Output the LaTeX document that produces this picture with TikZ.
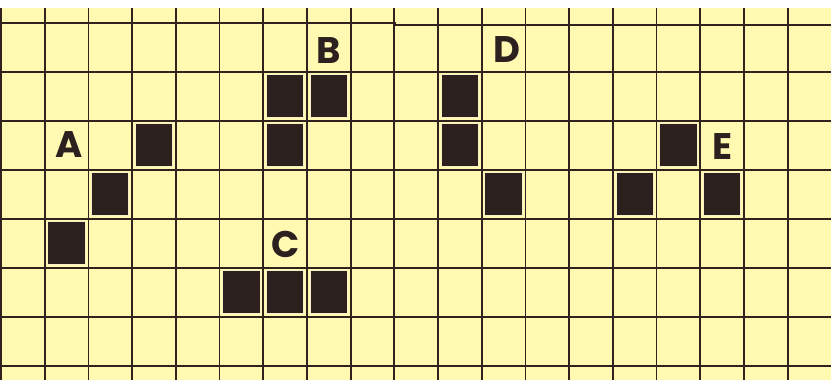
\documentclass[tikz,border=0pt]{standalone}
\usepackage{fontspec}
\setmainfont{Poppins}
\definecolor{paper}{RGB}{255,249,178}
\definecolor{ink}{RGB}{48,34,28}
\definecolor{cellfill}{RGB}{44,33,30}
\definecolor{rim}{RGB}{246,240,196}
\tikzset{
  gridline/.style={draw=ink, line width=1.8pt},
  blackcell/.style={fill=cellfill, draw=rim, line width=0.9pt},
  letter/.style={text=cellfill, font=\fontsize{37}{40}\selectfont\bfseries, inner sep=0pt}
}
\begin{document}
\begin{tikzpicture}[x=1pt,y=-1pt]
\useasboundingbox (0,0) rectangle (831,380);
\fill[white] (0,0) rectangle (831,380);
\fill[paper] (0,8) rectangle (831,380);
% vertical grid lines
\foreach \k in {0,...,18}{
  \draw[gridline] ({1+43.7*\k},8) -- ({1+43.7*\k},380);
}
% horizontal grid lines
\draw[gridline] (0,22.7) -- (395,22.7) -- (395,24.7) -- (831,24.7);
\foreach \k in {1,...,7}{
  \draw[gridline] (0,{22.7+49*\k}) -- (831,{22.7+49*\k});
}
% black cells
\foreach \c/\r in {3/2,2/3,1/4, 6/1,7/1,6/2, 5/5,6/5,7/5, 10/1,10/2,11/3, 15/2,14/3,16/3}{
  \draw[blackcell] ({1+43.7*\c+3.2},{22.7+49*\r+3.2}) rectangle ({1+43.7*(\c+1)-3.2},{22.7+49*(\r+1)-3.2});
}
% labels
\node[letter] (lA) at (69,145) {A};
\node[letter] (lB) at (329,50.5) {B};
\node[letter] (lC) at (286,244) {C};
\node[letter] (lD) at (507,50) {D};
\node[letter] (lE) at (722.5,146.7) {E};
\end{tikzpicture}
\end{document}
